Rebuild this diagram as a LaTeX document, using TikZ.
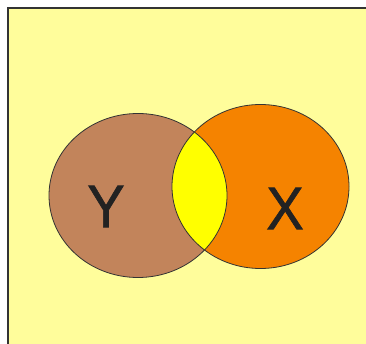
\documentclass[tikz,border=0pt]{standalone}
\usepackage{fontspec}
\setmainfont{Liberation Sans}
\newfontfamily\setfont{Liberation Sans}[FakeBold=1.2]
\usepackage{xcolor}
\usepackage{tikz}
\definecolor{bgcolor}{HTML}{FFFD9B}
\definecolor{setbrown}{HTML}{C2845B}
\definecolor{setorange}{HTML}{F58300}
\definecolor{lensyellow}{HTML}{FFFF00}
\definecolor{edgegray}{HTML}{333333}
\definecolor{labelblack}{HTML}{222222}

\begin{document}
\begin{tikzpicture}[x=1pt, y=-1pt,
    setedge/.style={edgegray, line width=0.8pt},
    setlabel/.style={text=labelblack, inner sep=0pt, font=\setfont\fontsize{60}{60}\selectfont, xscale=0.93}
]
  \useasboundingbox (0,0) rectangle (366,344);

  % Background panel
  \fill[white] (0,0) rectangle (366,344);
  \fill[bgcolor] (8,8) rectangle (366,344);
  \draw[edgegray, line width=1.2pt] (8,344) -- (8,8) -- (366,8);

  % Set Y (left)
  \fill[setbrown] (138,195.5) ellipse (89 and 82);

  % Set X (right)
  \fill[setorange] (260.5,186.5) ellipse (88.5 and 82);

  % Intersection
  \begin{scope}
    \clip (138,195.5) ellipse (89 and 82);
    \fill[lensyellow] (260.5,186.5) ellipse (88.5 and 82);
  \end{scope}

  % Outlines on top
  \draw[setedge] (138,195.5) ellipse (89 and 82);
  \draw[setedge] (260.5,186.5) ellipse (88.5 and 82);

  % Labels
  \node[setlabel] (ylabel) at (106,206.5) {Y};
  \node[setlabel] (xlabel) at (285,208.5) {X};

\end{tikzpicture}
\end{document}
